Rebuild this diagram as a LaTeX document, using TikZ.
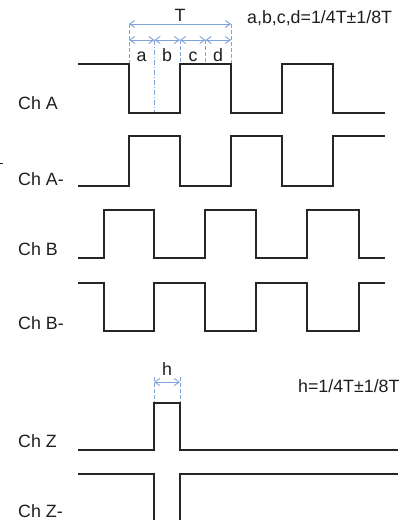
\documentclass[tikz,border=0pt]{standalone}
\usepackage{fontspec}
\setmainfont{Liberation Sans}
\usetikzlibrary{arrows.meta}
\definecolor{dimblue}{HTML}{7FA3D8}
\definecolor{sig}{HTML}{262626}
\definecolor{txt}{HTML}{1E1E1E}
\begin{document}
\begin{tikzpicture}[x=1pt,y=-1pt,
  wave/.style={draw=sig,line width=1.5pt,line join=miter},
  dimline/.style={draw=dimblue,line width=0.9pt,{Straight Barb[length=5pt,width=7pt]}-{Straight Barb[length=5pt,width=7pt]}},
  extline/.style={draw=dimblue,line width=0.9pt,dash pattern=on 4pt off 2pt},
  dashdotline/.style={draw=dimblue,line width=0.9pt,dash pattern=on 5pt off 2pt on 1pt off 2pt},
  lbl/.style={anchor=base west,inner sep=0pt,text=txt,font=\fontsize{17.8}{20}\selectfont},
  ctr/.style={anchor=base,inner sep=0pt,text=txt,font=\fontsize{17.8}{20}\selectfont}]
\useasboundingbox (0,0) rectangle (417,520);
% labels
\node[lbl] (lA)  at (18,109) {Ch A};
\node[lbl] (lAn) at (18,185) {Ch A-};
\node[lbl] (lB)  at (18,255) {Ch B};
\node[lbl] (lBn) at (18,329) {Ch B-};
\node[lbl] (lZ)  at (18,447) {Ch Z};
\node[lbl] (lZn) at (18,517) {Ch Z-};
\draw[sig,line width=1pt] (0,163) -- (3,163);
% Ch A
\draw[wave] (78,64) -- (129,64) -- (129,113) -- (180,113) -- (180,64) -- (231,64) -- (231,113)
  -- (282,113) -- (282,64) -- (333,64) -- (333,113) -- (385,113);
% Ch A-
\draw[wave] (78,186) -- (129,186) -- (129,136) -- (180,136) -- (180,186) -- (231,186) -- (231,136)
  -- (282,136) -- (282,186) -- (333,186) -- (333,136) -- (385,136);
% Ch B
\draw[wave] (78,258) -- (104,258) -- (104,210) -- (154,210) -- (154,258) -- (205,258) -- (205,210)
  -- (256,210) -- (256,258) -- (307,258) -- (307,210) -- (359,210) -- (359,258) -- (385,258);
% Ch B-
\draw[wave] (78,283) -- (104,283) -- (104,331) -- (154,331) -- (154,283) -- (205,283) -- (205,331)
  -- (256,331) -- (256,283) -- (307,283) -- (307,331) -- (359,331) -- (359,283) -- (385,283);
% Ch Z
\draw[wave] (78,450) -- (154,450) -- (154,403) -- (180,403) -- (180,450) -- (398,450);
% Ch Z-
\draw[wave] (78,474) -- (154,474) -- (154,521);
\draw[wave] (180,521) -- (180,474) -- (398,474);
% dimensions for Ch A
\coordinate (t0) at (129,24);
\coordinate (t4) at (231,24);
\coordinate (q0) at (129,40);
\coordinate (q1) at (154.5,40);
\coordinate (q2) at (180,40);
\coordinate (q3) at (205.5,40);
\coordinate (q4) at (231,40);
\draw[extline] (t0) -- (129,63);
\draw[extline] (t4) -- (231,63);
\draw[dashdotline] (q1) -- (154.5,112);
\draw[extline] (q2) -- (180,63);
\draw[extline] (q3) -- (205.5,63);
\draw[dimline] (t0) -- (t4);
\draw[dimline] (q0) -- (q1);
\draw[dimline] (q1) -- (q2);
\draw[dimline] (q2) -- (q3);
\draw[dimline] (q3) -- (q4);
\node[ctr] (T) at (180,21) {T};
\node[ctr] (na) at (141.5,61) {a};
\node[ctr] (nb) at (167,61) {b};
\node[ctr] (nc) at (193,61) {c};
\node[ctr] (nd) at (218,61) {d};
\node[lbl] (eq1) at (247,23) {a,b,c,d=1/4T±1/8T};
% dimension for Ch Z
\coordinate (h0) at (154,382);
\coordinate (h1) at (180,382);
\draw[extline] (154,377) -- (154,402);
\draw[extline] (180,377) -- (180,402);
\draw[dimline] (h0) -- (h1);
\node[ctr] (h) at (167,375) {h};
\node[lbl] (eq2) at (298,392) {h=1/4T±1/8T};
\end{tikzpicture}
\end{document}
